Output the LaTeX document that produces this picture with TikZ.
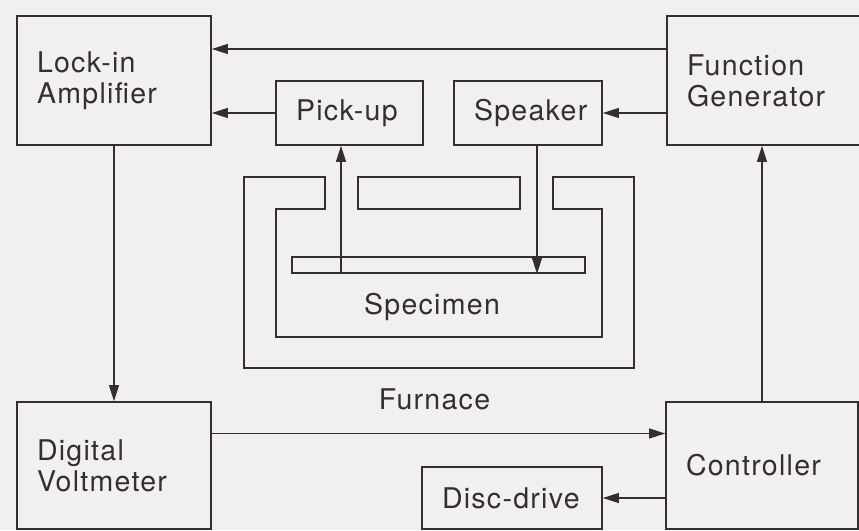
\documentclass[tikz,border=0pt]{standalone}
\usepackage{fontspec}
\setmainfont{TeX Gyre Heros}[LetterSpace=4.5]
\usetikzlibrary{arrows.meta}
\definecolor{paper}{RGB}{241,240,238}
\definecolor{ink}{RGB}{52,46,48}

\begin{document}
\begin{tikzpicture}[
		x = 1pt, y = 1pt,
		unit/.style = {draw = ink, line width = 1.7pt, inner xsep = 20pt, inner ysep = 0pt,
			align = left, text = ink, font = \fontsize{28.5}{31}\selectfont},
		wall/.style = {draw = ink, line width = 1.7pt},
		tag/.style = {text = ink, font = \fontsize{28.5}{31}\selectfont, inner sep = 0pt},
		arr/.style = {draw = ink, line width = 1.1pt, -{Triangle[length = 16pt, width = 10pt]}}
	]
		\fill[paper] (0,0) rectangle (859,530);
		\clip (0,0) rectangle (859,530);

		\node[unit, text width = 154pt, minimum height = 129pt] (lock) at (114,449.5) {Lock-in\\Amplifier};
		\node[unit, text width = 168pt, minimum height = 129pt] (fgen) at (771,449.5) {Function\\Generator};
		\node[unit, text width = 107pt, minimum height = 64pt] (pickup) at (349.5,417) {Pick-up};
		\node[unit, text width = 108pt, minimum height = 64pt] (speaker) at (528,417) {Speaker};
		\node[unit, text width = 154pt, minimum height = 127pt] (dvm) at (114,64.5) {Digital\\Voltmeter};
		\node[unit, text width = 152pt, minimum height = 127pt] (ctrl) at (762,64.5) {Controller};
		\node[unit, text width = 140pt, minimum height = 62pt] (disc) at (512,32) {Disc-drive};

		\draw[wall] (244,353) -- (325,353) -- (325,321) -- (276,321) -- (276,193) -- (602,193)
			-- (602,321) -- (553,321) -- (553,353) -- (634,353) -- (634,162) -- (244,162) -- cycle;
		\draw[wall] (358,353) rectangle (520,321);
		\node[wall, minimum width = 293pt, minimum height = 16pt, inner sep = 0pt] (bar) at (438.5,265) {};
		\node[tag, anchor = base] (specimen) at (432,215) {Specimen};
		\node[tag, anchor = base] (furnace) at (434.5,120) {Furnace};

		\coordinate (pin) at ([xshift = -8.5pt]pickup.south);
		\coordinate (sout) at ([xshift = 9pt]speaker.south);
		\coordinate (gtop) at ([yshift = 31.5pt]fgen.west);
		\coordinate (vout) at ([yshift = 32pt]dvm.east);

		\draw[arr] (gtop) -- (gtop -| lock.east);
		\draw[arr] (pickup.west) -- (pickup.west -| lock.east);
		\draw[arr] (fgen.west |- speaker.east) -- (speaker.east);
		\draw[arr] (bar.south -| pin) -- (pin);
		\draw[arr] (sout) -- (sout |- bar.south);
		\draw[arr] (lock.south) -- (dvm.north);
		\draw[arr] (vout) -- (vout -| ctrl.west);
		\draw[arr] (ctrl.west |- disc.east) -- (disc.east);
		\draw[arr] (ctrl.north) -- (ctrl.north |- fgen.south);
	\end{tikzpicture}
\end{document}
